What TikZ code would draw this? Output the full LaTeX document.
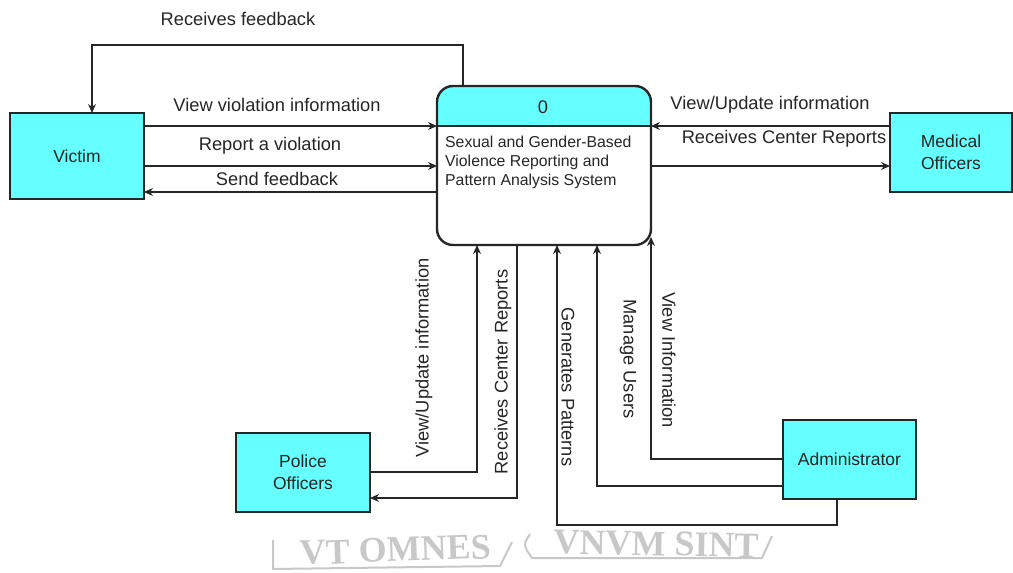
\documentclass[tikz,border=0pt]{standalone}
\usepackage{fontspec}
\setmainfont{Liberation Sans}
\newfontfamily\sealfont{Liberation Serif}
\usetikzlibrary{arrows.meta,calc}
\definecolor{entity}{RGB}{102,255,255}
\definecolor{ink}{RGB}{38,38,38}
\definecolor{seal}{RGB}{200,200,200}
\begin{document}
\begin{tikzpicture}[x=1pt,y=-1pt,
  entitybox/.style={draw=ink, line width=1.2pt, fill=entity, text=ink,
    font=\fontsize{17.5}{22}\selectfont, align=center, inner sep=0pt, outer sep=0pt},
  flow/.style={draw=ink, line width=1.2pt, -{Stealth[length=9pt,width=8pt]}},
  lbl/.style={font=\fontsize{18.3}{21}\selectfont, text=ink, inner sep=0pt},
  sealtxt/.style={font=\sealfont\bfseries\fontsize{36}{40}\selectfont, text=seal, inner sep=0pt}]
\useasboundingbox (0,0) rectangle (1013,573);

% external entities
\node[entitybox, minimum width=134, minimum height=86] (V) at (77,156) {Victim};
\node[entitybox, minimum width=122, minimum height=79] (M) at (951,152.5) {Medical\\Officers};
\node[entitybox, minimum width=134, minimum height=79] (PO) at (303,472.5) {Police\\Officers};
\node[entitybox, minimum width=133, minimum height=79] (A) at (849.5,459.5) {Administrator};

% process 0
\node[draw=none, fill=white, rounded corners=16, minimum width=214, minimum height=159,
  inner sep=0pt, outer sep=0pt] (P) at (544,165.5) {};
\fill[entity] (P.west |- 0,126) {[rounded corners=16] -- (P.north west) -- (P.north east)}
  -- (P.east |- 0,126) -- cycle;
\draw[ink, line width=1.6pt] (P.west |- 0,126) -- (P.east |- 0,126);
\draw[ink, line width=2.4pt, rounded corners=16] (P.north west) rectangle (P.south east);
\node[lbl] (Pnum) at (543,107) {0};
\node[anchor=north west, align=left, inner sep=0pt, text=ink,
  font=\fontsize{15.8}{19}\selectfont] (Ptext) at (445,136)
  {Sexual and Gender-Based\\Violence Reporting and\\Pattern Analysis System};

% victim flows
\draw[flow] (P.north -| 463,0) |- (92,45) -- (V.north -| 92,0);
\node[lbl] (l1) at (238,19) {Receives feedback};
\draw[flow] (V.east |- 0,126) -- (P.west |- 0,126);
\node[lbl] (l2) at (277,105) {View violation information};
\draw[flow] (V.east |- 0,166) -- (P.west |- 0,166);
\node[lbl] (l3) at (270,146) {Report a violation};
\draw[flow] (P.west |- 0,192) -- (V.east |- 0,192);
\node[lbl] (l4) at (277,179) {Send feedback};

% medical officer flows
\draw[flow] (M.west |- 0,126) -- (P.east |- 0,126);
\node[lbl] (l5) at (770,105) {View/Update information};
\draw[flow] (P.east |- 0,166) -- (M.west |- 0,166);
\node[lbl] (l6) at (784,139) {Receives Center Reports};

% police officer flows
\draw[flow] (PO.east |- 0,472) -| (P.south -| 477,0);
\node[lbl, rotate=90] (l7) at (424,358) {View/Update information};
\draw[flow] (P.south -| 517,0) |- (PO.east |- 0,498);
\node[lbl, rotate=90] (l8) at (503,372) {Receives Center Reports};

% administrator flows
\draw[flow] (A.south -| 837,0) |- (557,525) -- (P.south -| 557,0);
\node[lbl, rotate=-90] (l9) at (568,387) {Generates Patterns};
\draw[flow] (A.west |- 0,486) -| (P.south -| 597,0);
\node[lbl, rotate=-90] (l10) at (628,359) {Manage Users};
\draw[flow] (A.west |- 0,459) -| (P.east |- 0,237);
\node[lbl, rotate=-90] (l11) at (669,360) {View Information};

% seal motto along the lower edge
\draw[seal, line width=2pt] (273,540) -- (273,569) -- (500,566) -- (512,542);
\node[sealtxt, rotate=2] (s1) at (396,550) {VT OMNES};
\draw[seal, line width=2pt] (530,534) .. controls (523,545) .. (532,558) -- (762,558) -- (772,536);
\node[sealtxt, rotate=-1] (s2) at (656,544) {VNVM SINT};
\end{tikzpicture}
\end{document}
